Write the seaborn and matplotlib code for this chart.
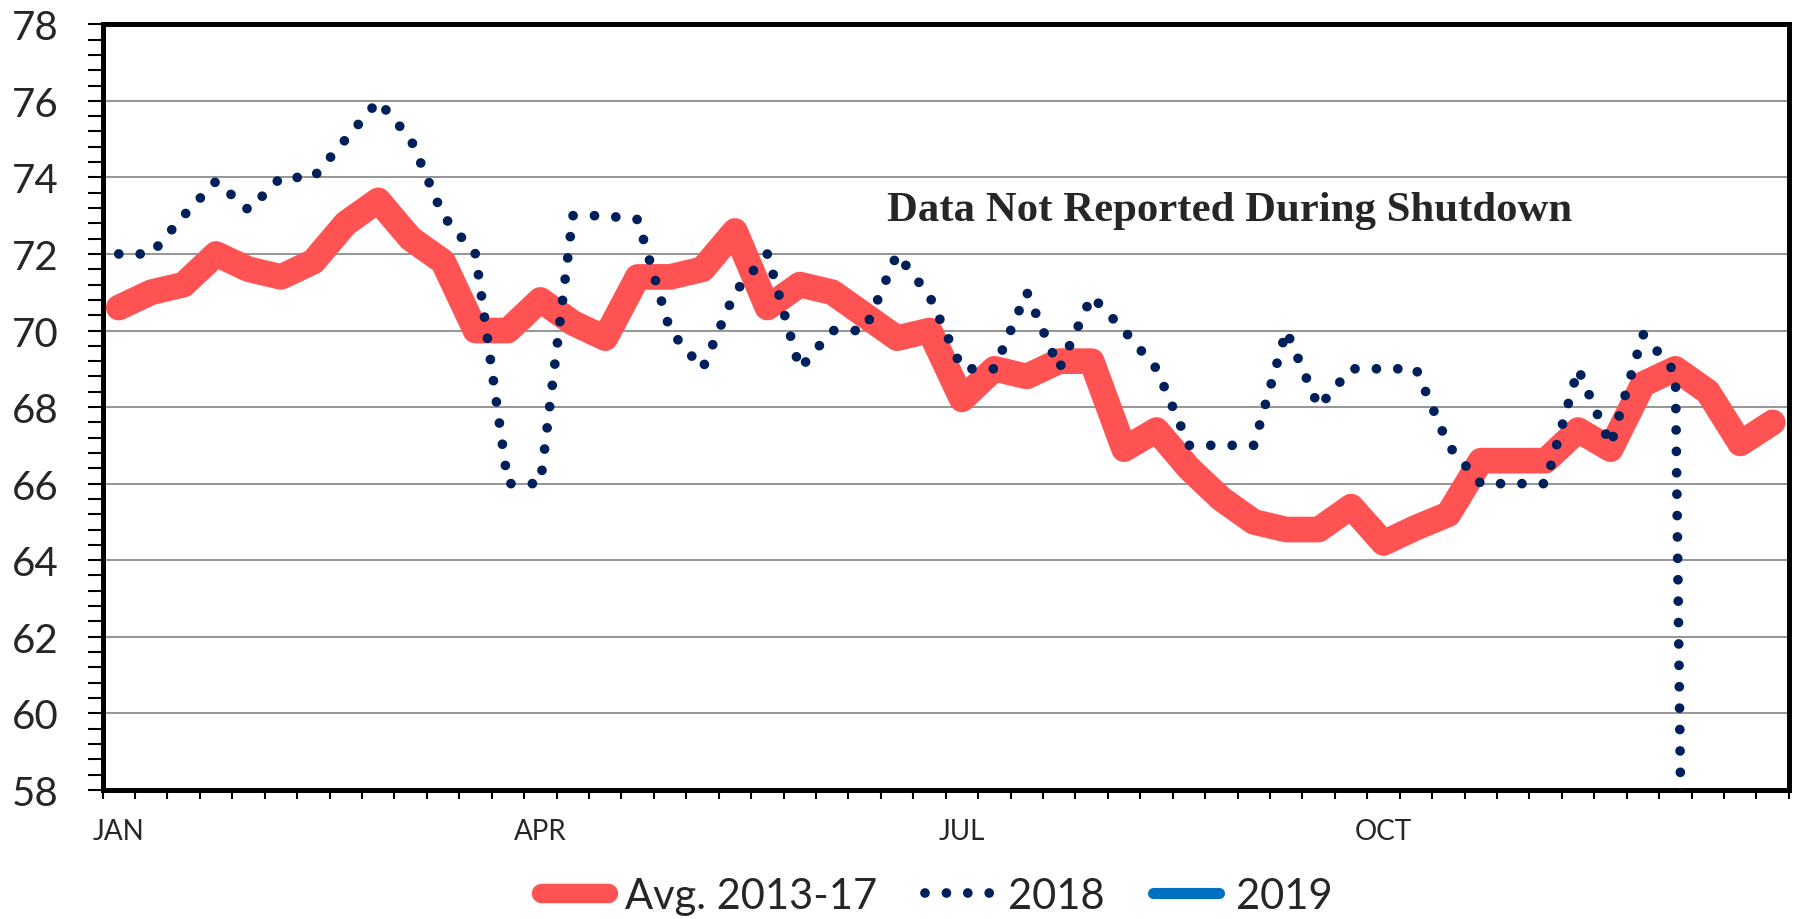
""" Weekly chart: 5-year average vs 2018 vs 2019 (shutdown gap).
"""

import numpy as np
import pandas as pd
import matplotlib
matplotlib.use('Agg')
import matplotlib.pyplot as plt
from matplotlib.lines import Line2D
from matplotlib.ticker import MultipleLocator
import seaborn as sns

# Data (52 weeks)
weeks = np.arange(52) + 0.5
avg_2013_17 = [70.6, 71.0, 71.2, 72.0, 71.6, 71.4, 71.8, 72.8, 73.4, 72.4,
               71.8, 70.0, 70.0, 70.8, 70.2, 69.8, 71.4, 71.4, 71.6, 72.6,
               70.6, 71.2, 71.0, 70.4, 69.8, 70.0, 68.2, 69.0, 68.8, 69.2,
               69.2, 66.9, 67.4, 66.4, 65.6, 65.0, 64.8, 64.8, 65.4, 64.45,
               64.85, 65.2, 66.6, 66.6, 66.6, 67.4, 66.9, 68.6, 69.0, 68.4,
               67.05, 67.6]
y2018 = [72.0, 72.0, 73.0, 73.9, 73.15, 74.0, 74.0, 75.0, 76.0, 75.0,
         73.0, 72.0, 66.0, 66.0, 73.0, 73.0, 72.9, 70.0, 69.0, 71.0,
         72.0, 69.0, 70.0, 70.0, 72.0, 70.9, 69.0, 69.0, 71.0, 69.0,
         70.9, 70.0, 69.0, 67.0, 67.0, 67.0, 70.0, 68.0, 69.0, 69.0,
         69.0, 67.0, 66.0, 66.0, 66.0, 69.0, 67.0, 69.9, 68.9, 0.0,
         np.nan, np.nan]
y2019 = []  # not reported during shutdown

month_pos = [0.5, 13.5, 26.5, 39.5]
month_labels = ['JAN', 'APR', 'JUL', 'OCT']

series_names = ['Avg. 2013-17', '2018', '2019']
red = '#FF5252'
navy = '#00205B'
blue = '#0070C0'

df = pd.DataFrame({'week': weeks, 'avg': avg_2013_17, 'y2018': y2018})

sns.set_style('white')
plt.rcParams['font.family'] = ['Lato', 'DejaVu Sans']

fig = plt.figure(figsize=(18.09, 9.2), dpi=100)
ax = fig.add_axes([0.0567, 0.1404, 0.9322, 0.8321])

sns.lineplot(data=df, x='week', y='avg', ax=ax, color=red, linewidth=18.5,
             solid_capstyle='round', solid_joinstyle='round', zorder=3)
sns.lineplot(data=df, x='week', y='y2018', ax=ax, color=navy, linewidth=7,
             linestyle=(0, (0.001, 2.2)), dash_capstyle='round', zorder=4)

ax.set_xlim(0, 52)
ax.set_ylim(58, 78)
ax.set_xlabel('')
ax.set_ylabel('')

# y axis
ax.yaxis.set_major_locator(MultipleLocator(2))
ax.yaxis.set_minor_locator(MultipleLocator(0.4))
ax.tick_params(axis='y', which='both', direction='out', length=10.5,
               width=1.5, color='black', left=True)
ax.tick_params(axis='y', which='major', labelsize=29, pad=21)
ax.grid(axis='y', which='major', color='#8C8C8C', linewidth=1.3, zorder=1)
ax.set_axisbelow(True)

# x axis: weekly ticks, month labels centred between ticks
ax.set_xticks(np.arange(53))
ax.set_xticklabels([])
ax.set_xticks(month_pos, month_labels, minor=True)
ax.tick_params(axis='x', which='major', direction='out', length=6.5,
               width=1.5, color='black', bottom=True)
ax.tick_params(axis='x', which='minor', length=0, labelsize=20, pad=20)

for side in ['left', 'right', 'top', 'bottom']:
    ax.spines[side].set_visible(True)
    ax.spines[side].set_color('black')
    ax.spines[side].set_linewidth(3.6)

ax.text(24.2, 72.88, 'Data Not Reported During Shutdown',
        family='Liberation Serif', fontweight='bold', fontsize=30.8,
        ha='left', va='baseline', zorder=5)

handles = [
    Line2D([], [], color=red, linewidth=14, solid_capstyle='round'),
    Line2D([], [], color=navy, linewidth=7, linestyle=(0, (0.001, 2.2)),
           dash_capstyle='round'),
    Line2D([], [], color=blue, linewidth=8, solid_capstyle='round'),
]
fig.legend(handles, series_names, loc='center', bbox_to_anchor=(0.518, 0.025),
           ncol=3, frameon=False, fontsize=30, handlelength=1.6,
           handletextpad=0.4, columnspacing=1.15, borderpad=0)

fig.savefig('out.png', dpi=100)
